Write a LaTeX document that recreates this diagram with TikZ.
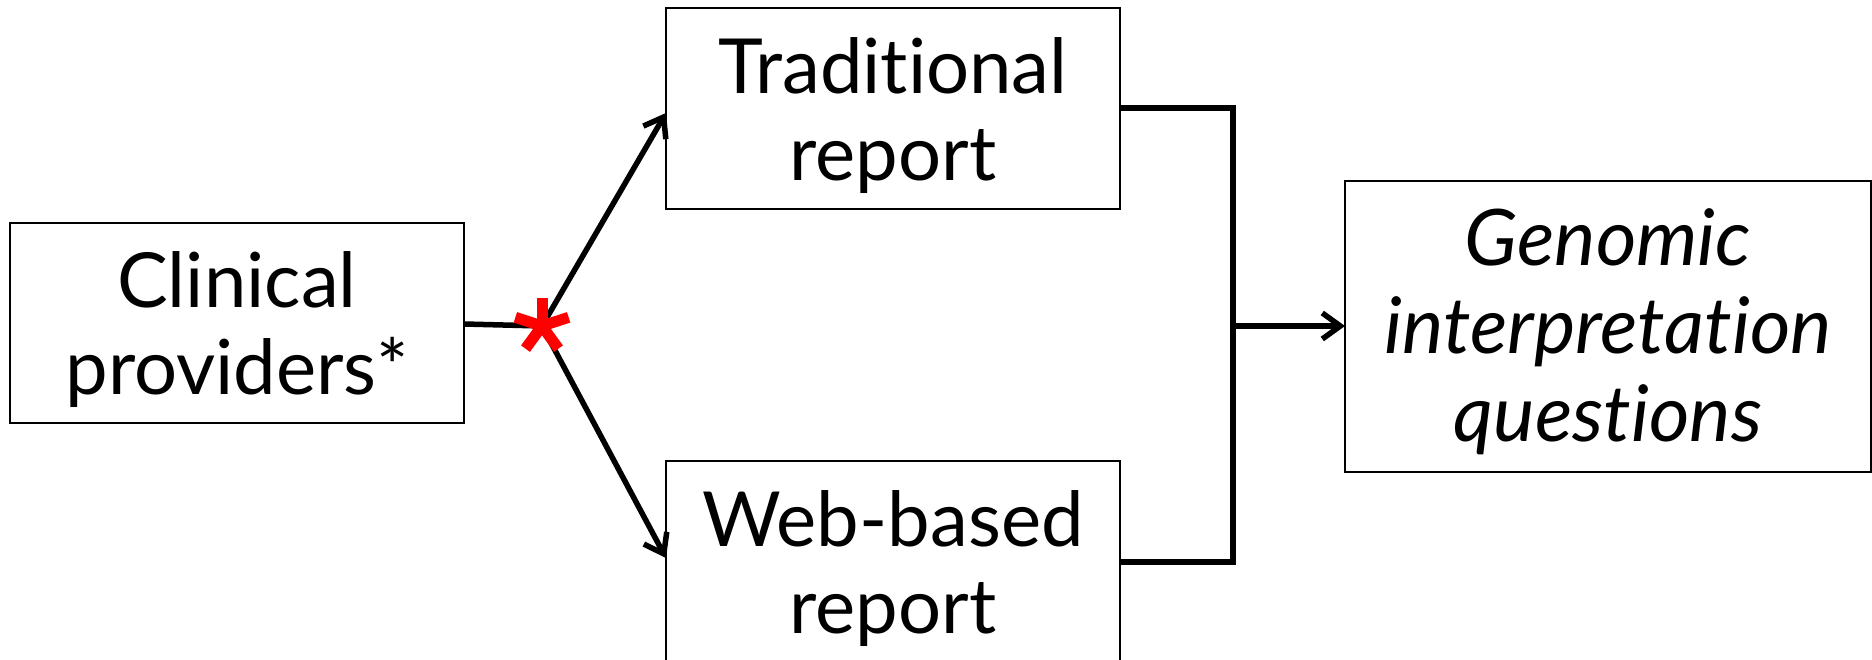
\documentclass[tikz,border=0pt]{standalone}
\usepackage{fontspec}
\setmainfont[Ligatures={NoCommon}]{Lato}
\usetikzlibrary{arrows.meta}

\tikzset{
  box/.style={draw=black, line width=1.6pt, fill=white, inner sep=0pt, outer sep=0pt},
  txt/.style={align=center, inner sep=0pt, font=\fontsize{76pt}{87pt}\selectfont},
  itxt/.style={align=center, inner sep=0pt, font=\fontsize{78pt}{88pt}\selectfont\itshape},
  link/.style={draw=black, line width=5.5pt},
  arr/.style={link, -{Straight Barb[length=18pt, width=26pt, line width=5.5pt]}},
  starmark/.style={draw=red, line width=11pt}
}

\begin{document}
\begin{tikzpicture}[x=1pt, y=-1pt]
  \useasboundingbox (0,0) rectangle (1872,660);
  \clip (0,0) rectangle (1872,660);

  % boxes
  \node[box, minimum width=454pt, minimum height=200pt] (clin) at (237,323) {};
  \node[box, minimum width=454pt, minimum height=201pt] (trad) at (893,108.5) {};
  \node[box, minimum width=454pt, minimum height=201pt] (web) at (893,561.5) {};
  \node[box, minimum width=526pt, minimum height=291pt] (geno) at (1608,326.5) {};

  % box labels
  \node[txt] (clinT) at ([yshift=-7pt]clin.center) {Clinical\\providers*};
  \node[txt] (tradT) at ([yshift=-7pt]trad.center) {Traditional\\report};
  \node[txt] (webT) at ([yshift=-7pt]web.center) {Web-based\\report};
  \node[itxt] (genoT) at ([yshift=-5pt]geno.center) {Genomic\\interpretation\\questions};

  % branching point and merge rail
  \coordinate (hub) at (542,326);
  \coordinate (tin) at (666,113);
  \coordinate (win) at (666,558);
  \coordinate (rtop) at (1233,108);
  \coordinate (rbot) at (1233,562);
  \coordinate (rmid) at (1233,326);

  \draw[link] (clin.east |- 0,324) -- (hub);
  \draw[arr] (hub) -- (tin);
  \draw[arr] (hub) -- (win);

  \draw[link, line join=miter] (trad.east |- rtop) -- (rtop) -- (rbot) -- (web.east |- rbot);
  \draw[arr] (rmid) -- (geno.west |- rmid);

  % red asterisk at the branching point
  \foreach \a in {90,18,162,234,306}
    \draw[starmark] (hub) -- ++(\a:28pt);
\end{tikzpicture}
\end{document}
